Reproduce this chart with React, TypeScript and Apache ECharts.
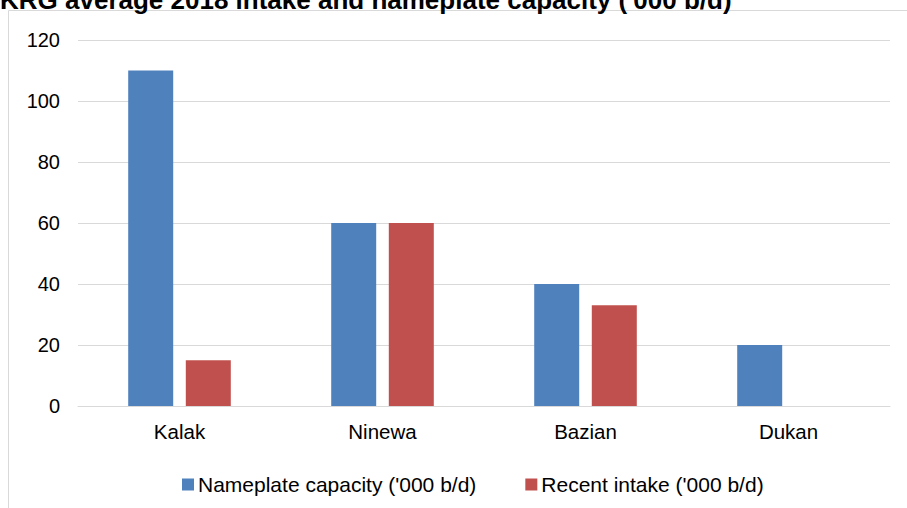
import React, { useEffect, useRef } from "react";
import * as echarts from "echarts";

const titleText = "KRG average 2018 intake and nameplate capacity ('000 b/d)";
const categories = ["Kalak", "Ninewa", "Bazian", "Dukan"];
const nameplateName = "Nameplate capacity ('000 b/d)";
const intakeName = "Recent intake ('000 b/d)";
const nameplateValues = [110, 60, 40, 20];
const intakeValues = [15, 60, 33, 0];

const FONT = "Arial, 'Liberation Sans', sans-serif";

export default function App() {
  const ref = useRef<HTMLDivElement>(null);
  useEffect(() => {
    if (!ref.current) return;
    const chart = echarts.init(ref.current, null, { renderer: "svg" });
    chart.setOption({
      animation: false,
      backgroundColor: "#ffffff",
      textStyle: { fontFamily: FONT },
      graphic: [
        {
          type: "rect",
          z: -1,
          shape: { x: 8.5, y: 10.5, width: 1200, height: 1200 },
          style: { fill: "none", stroke: "#D9D9D9", lineWidth: 1 },
        },
        {
          type: "text",
          x: 0,
          y: 12.5,
          z: 10,
          style: {
            text: titleText,
            font: `bold 26px ${FONT}`,
            fill: "#000000",
            verticalAlign: "bottom",
            align: "left",
          },
        },
      ],
      legend: {
        left: 177,
        top: 469,
        icon: "rect",
        itemWidth: 12,
        itemHeight: 12,
        itemGap: 49,
        textStyle: { fontSize: 21, color: "#000000", fontFamily: FONT, padding: [0, 0, 0, -1] },
        data: [nameplateName, intakeName],
      },
      grid: { left: 78, right: 17, top: 40, bottom: 102 },
      xAxis: {
        type: "category",
        data: categories,
        axisLine: { lineStyle: { color: "#D9D9D9" } },
        axisTick: { show: false },
        axisLabel: { fontSize: 20.5, color: "#000000", margin: 15, fontFamily: FONT },
      },
      yAxis: {
        type: "value",
        min: 0,
        max: 120,
        interval: 20,
        axisLine: { show: false },
        axisTick: { show: false },
        axisLabel: { fontSize: 20, color: "#000000", margin: 18, fontFamily: FONT },
        splitLine: { lineStyle: { color: "#D9D9D9" } },
      },
      series: [
        {
          name: nameplateName,
          type: "bar",
          data: nameplateValues,
          barWidth: 45,
          barGap: "28%",
          itemStyle: { color: "#4F81BD" },
        },
        {
          name: intakeName,
          type: "bar",
          data: intakeValues,
          barWidth: 45,
          barGap: "28%",
          itemStyle: { color: "#C0504D" },
        },
      ],
    });
    return () => chart.dispose();
  }, []);
  return (
    <div
      ref={ref}
      style={{ position: "fixed", left: 0, top: 0, width: 907, height: 508 }}
    />
  );
}
